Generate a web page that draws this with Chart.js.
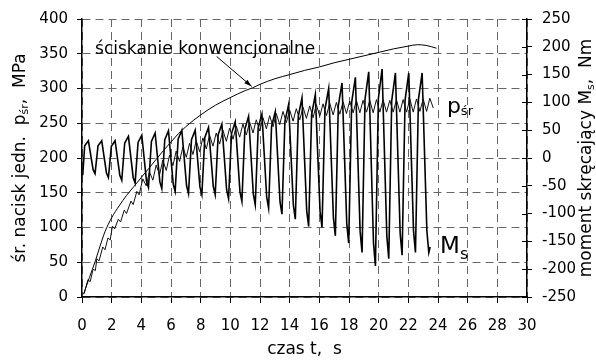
<!DOCTYPE html>
<html lang="pl">
<head>
<meta charset="UTF-8">
<title>Ściskanie ze skręcaniem</title>
<script src="https://cdn.jsdelivr.net/npm/chart.js"></script>
<style>
    body { margin: 0; background: #fff; }
    canvas { display: block; }
</style>
</head>
<body>
<canvas id="wykres" width="596" height="362"></canvas>
<script>
    const FONT = '"DejaVu Sans", sans-serif';

    // ściskanie konwencjonalne, p [MPa]
    const konwT = [0.1, 0.5, 0.9, 1.2, 1.55, 2.0, 2.5, 3.0, 3.5, 4.0, 4.5, 5.0, 5.5, 6.0, 6.5, 7.0, 7.5, 8.0, 9.0, 10.0, 11.0, 11.5, 12.0, 13.0, 14.0, 15.0, 16.0, 17.0, 18.0, 19.0, 20.0, 21.0, 22.0, 22.6, 23.2, 23.9];
    const konwP = [4, 28, 52, 72, 94, 114, 131, 146, 159, 172, 185, 198, 211, 223, 235, 245, 254, 262, 276, 287, 297, 301, 306, 314, 320, 326, 331, 337, 342, 347, 352, 357, 361, 363, 362, 358];

    // średni nacisk jednostkowy p_śr [MPa]
    const pT = [0.15, 0.4, 0.55, 0.75, 0.9, 1.0, 1.15, 1.4, 1.55, 1.75, 1.9, 2.05, 2.2, 2.45, 2.6, 2.85, 3.0, 3.3, 3.45, 3.7, 3.85,
        4.10, 4.33, 4.55, 4.78, 5.00, 5.23, 5.45, 5.68, 5.90, 6.13, 6.35, 6.58, 6.80, 7.03, 7.25, 7.48, 7.70, 7.93,
        8.15, 8.38, 8.60, 8.83, 9.05, 9.28, 9.50, 9.73, 9.95, 10.18, 10.40, 10.63, 10.85, 11.08, 11.30, 11.53, 11.75, 11.98,
        12.20, 12.43, 12.65, 12.88, 13.10, 13.33, 13.55, 13.78, 14.00, 14.23, 14.45, 14.68, 14.90, 15.13, 15.35, 15.58,
        15.80, 16.03, 16.25, 16.48, 16.70, 16.93, 17.15, 17.38, 17.60, 17.83, 18.05, 18.28, 18.50, 18.73, 18.95, 19.18,
        19.40, 19.63, 19.85, 20.08, 20.30, 20.53, 20.75, 20.98, 21.20, 21.43, 21.65, 21.88, 22.10, 22.33, 22.55, 22.78,
        23.00, 23.23, 23.45, 23.68];
    const pV = [5, 25, 22, 40, 38, 55, 52, 72, 68, 85, 82, 102, 98, 112, 108, 125, 120, 138, 133, 152, 147,
        170, 160, 180, 168, 190, 176, 197, 182, 204, 189, 210, 195, 216, 201, 221, 205, 225, 209,
        229, 213, 233, 217, 236, 220, 240, 224, 243, 227, 246, 230, 249, 233, 252, 236, 255, 239,
        258, 242, 261, 245, 264, 248, 267, 251, 269, 253, 271, 255, 273, 257, 275, 258,
        277, 260, 278, 261, 279, 262, 280, 263, 281, 264, 282, 265, 283, 265, 283, 266,
        283, 265, 284, 266, 284, 266, 283, 266, 284, 266, 284, 266, 285, 266, 285, 267,
        285, 267, 286, 272];

    // moment skręcający M_s [Nm]
    const msT = [0.05,
        0.18, 0.43, 0.75, 0.88,
        1.08, 1.33, 1.65, 1.78,
        1.98, 2.23, 2.55, 2.68,
        2.88, 3.13, 3.45, 3.58,
        3.78, 4.03, 4.35, 4.48,
        4.68, 4.93, 5.25, 5.38,
        5.58, 5.83, 6.15, 6.28,
        6.48, 6.73, 7.05, 7.18,
        7.38, 7.63, 7.95, 8.08,
        8.28, 8.53, 8.85, 8.98,
        9.18, 9.43, 9.75, 9.88,
        10.08, 10.33, 10.65, 10.78,
        10.98, 11.23, 11.55, 11.68,
        11.88, 12.13, 12.45, 12.58,
        12.78, 13.03, 13.35, 13.48,
        13.68, 13.93, 14.25, 14.38,
        14.58, 14.83, 15.15, 15.28,
        15.48, 15.73, 16.05, 16.18,
        16.38, 16.63, 16.95, 17.08,
        17.28, 17.53, 17.85, 17.98,
        18.18, 18.43, 18.75, 18.88,
        19.08, 19.33, 19.65, 19.78,
        19.98, 20.23, 20.55, 20.68,
        20.88, 21.13, 21.45, 21.58,
        21.78, 22.03, 22.35, 22.48,
        22.68, 22.93, 23.25, 23.38,
        23.47];
    const msV = [-31,
        22, 31, -21, -28,
        22, 31, -27, -35,
        21, 31, -31, -40,
        27, 39, -35, -45,
        28, 41, -42, -53,
        30, 45, -43, -55,
        33, 49, -47, -60,
        34, 50, -50, -64,
        33, 50, -52, -66,
        37, 55, -51, -66,
        42, 61, -57, -73,
        44, 65, -61, -78,
        52, 75, -65, -84,
        55, 79, -70, -90,
        57, 83, -79, -101,
        66, 96, -85, -110,
        75, 108, -95, -123,
        78, 114, -96, -125,
        88, 125, -108, -140,
        94, 135, -118, -153,
        100, 145, -132, -170,
        106, 155, -152, -194,
        107, 160, -140, -181,
        103, 153, -136, -175,
        104, 153, -131, -170,
        105, 153, -131, -170,
        -160];

    // polozenie napisow w jednostkach osi (t [s], p [MPa])
    const opisKonw = [0.88, 349];
    const strzalkaOd = [9.08, 346];
    const strzalkaDo = [11.44, 303];
    const opisP = [24.6, 264.5];
    const opisM = [24.14, 64];

    function punkty(xs, ys) {
        return xs.map((x, i) => ({ x: x, y: ys[i] }));
    }

    function tekst(ctx, czesci, x, y, srodek) {
        let w = 0;
        czesci.forEach(c => { ctx.font = c[1] + 'px ' + FONT; w += ctx.measureText(c[0]).width; });
        let cx = srodek ? x - w / 2 : x;
        czesci.forEach(c => {
            ctx.font = c[1] + 'px ' + FONT;
            ctx.fillText(c[0], cx, y + (c[2] || 0));
            cx += ctx.measureText(c[0]).width;
        });
    }

    const napisy = {
        id: 'napisy',
        afterDraw(chart) {
            const ctx = chart.ctx;
            const xs = chart.scales.x, ys = chart.scales.y, y2 = chart.scales.y2;
            const px = v => xs.getPixelForValue(v), py = v => ys.getPixelForValue(v);
            ctx.save();
            ctx.fillStyle = '#000';
            ctx.strokeStyle = '#000';
            ctx.lineWidth = 1;

            // kreski podzialki prawej osi do wnetrza
            y2.ticks.forEach(t => {
                const y = Math.round(y2.getPixelForValue(t.value)) + 0.5;
                ctx.beginPath();
                ctx.moveTo(y2.left - 5, y);
                ctx.lineTo(y2.left, y);
                ctx.stroke();
            });

            ctx.textBaseline = 'alphabetic';
            ctx.textAlign = 'left';
            tekst(ctx, [['ściskanie konwencjonalne', 17]], px(opisKonw[0]), py(opisKonw[1]), false);

            // strzalka
            const x1 = px(strzalkaOd[0]), yy1 = py(strzalkaOd[1]);
            const x2 = px(strzalkaDo[0]), yy2 = py(strzalkaDo[1]);
            ctx.beginPath();
            ctx.moveTo(x1, yy1);
            ctx.lineTo(x2, yy2);
            ctx.stroke();
            const kat = Math.atan2(yy2 - yy1, x2 - x1);
            ctx.beginPath();
            ctx.moveTo(x2, yy2);
            ctx.lineTo(x2 - 8 * Math.cos(kat - 0.3), yy2 - 8 * Math.sin(kat - 0.3));
            ctx.lineTo(x2 - 8 * Math.cos(kat + 0.3), yy2 - 8 * Math.sin(kat + 0.3));
            ctx.closePath();
            ctx.fill();

            tekst(ctx, [['p', 22], ['śr', 13, 2]], px(opisP[0]), py(opisP[1]), false);
            tekst(ctx, [['M', 23], ['s', 16, 6]], px(opisM[0]), py(opisM[1]), false);

            // opisy osi pionowych
            ctx.textBaseline = 'middle';
            const srY = (chart.chartArea.top + chart.chartArea.bottom) / 2;
            ctx.save();
            ctx.translate(21, srY);
            ctx.rotate(-Math.PI / 2);
            tekst(ctx, [['śr. nacisk jedn.  p', 17], ['śr', 11, 4], [',  MPa', 17]], 0, 0, true);
            ctx.restore();
            ctx.save();
            ctx.translate(587, srY);
            ctx.rotate(-Math.PI / 2);
            tekst(ctx, [['moment skręcający M', 17], ['s', 11, 4], [',  Nm', 17]], 0, 0, true);
            ctx.restore();
            ctx.restore();
        }
    };

    const siatka = { color: '#666', lineWidth: 1, tickLength: 6, tickColor: '#000' };
    const ramka = { color: '#000', width: 1.5, dash: [8, 5] };
    const czcionka = { family: FONT, size: 15 };

    new Chart(document.getElementById('wykres'), {
        type: 'line',
        data: {
            datasets: [{
                label: 'ściskanie konwencjonalne',
                data: punkty(konwT, konwP),
                borderColor: '#000',
                borderWidth: 1,
                tension: 0.4,
                cubicInterpolationMode: 'monotone',
                yAxisID: 'y'
            }, {
                label: 'p śr',
                data: punkty(pT, pV),
                borderColor: '#111',
                borderWidth: 1,
                tension: 0,
                yAxisID: 'y'
            }, {
                label: 'M s',
                data: punkty(msT, msV),
                borderColor: '#000',
                borderWidth: 1.6,
                tension: 0,
                yAxisID: 'y2'
            }]
        },
        options: {
            responsive: false,
            animation: false,
            layout: { padding: { top: 15, left: 0, right: 0, bottom: 0 } },
            elements: { point: { radius: 0 } },
            plugins: { legend: { display: false }, tooltip: { enabled: false } },
            scales: {
                x: {
                    type: 'linear',
                    min: 0, max: 30,
                    ticks: { stepSize: 2, color: '#000', font: czcionka, padding: 14, maxRotation: 0, autoSkip: false },
                    grid: siatka,
                    border: ramka,
                    title: { display: true, text: 'czas t,  s', color: '#000', font: { family: FONT, size: 17 }, padding: { top: 0, bottom: 2 } },
                    afterFit: s => { s.height = 65; }
                },
                y: {
                    position: 'left',
                    min: 0, max: 400,
                    ticks: { stepSize: 50, color: '#000', font: czcionka, padding: 9 },
                    grid: { color: '#666', lineWidth: 1, tickLength: 5, tickColor: '#000' },
                    border: ramka,
                    afterFit: s => { s.width = 82; }
                },
                y2: {
                    position: 'right',
                    min: -250, max: 250,
                    ticks: { stepSize: 50, color: '#000', font: czcionka, padding: 10 },
                    grid: { drawOnChartArea: false, tickLength: 5, tickColor: '#000' },
                    border: { color: '#000', width: 1.5 },
                    afterFit: s => { s.width = 69; }
                }
            }
        },
        plugins: [napisy]
    });
</script>
</body>
</html>
